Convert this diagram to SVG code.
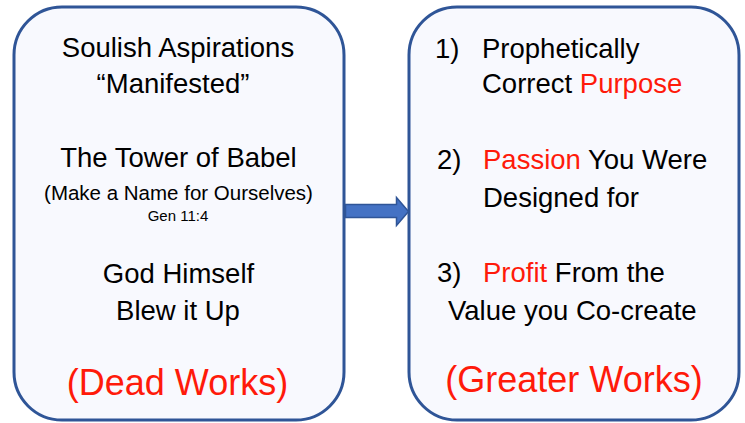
<svg xmlns="http://www.w3.org/2000/svg" width="745" height="423" viewBox="0 0 745 423">
  <style>
    .box { fill: #F8F9FE; stroke: #2F5597; stroke-width: 3; }
    .t { font-family: "Liberation Sans", Arial, sans-serif; font-size: 27.5px; fill: #000000; }
    .c { text-anchor: middle; }
    .red { fill: #FF1A0A; }
    .big { font-size: 36px; }
    .sub { font-size: 20.5px; }
    .ref { font-size: 15px; }
    .arrow { fill: #4472C4; stroke: #2F5597; stroke-width: 1.5; }
  </style>
  <rect x="0" y="0" width="745" height="423" fill="#FFFFFF"/>
  <g id="dead-works">
    <rect class="box" x="14" y="7" width="330" height="413" rx="48" ry="48"/>
    <text class="t c" x="178" y="57">Soulish Aspirations</text>
    <text class="t c" x="173" y="93">“Manifested”</text>
    <text class="t c" x="178.5" y="167">The Tower of Babel</text>
    <text class="t c sub" x="178.5" y="200">(Make a Name for Ourselves)</text>
    <text class="t c ref" x="178" y="221">Gen 11:4</text>
    <text class="t c" x="178.5" y="283">God Himself</text>
    <text class="t c" x="178" y="320">Blew it Up</text>
    <text class="t c big red" x="177.5" y="395">(Dead Works)</text>
  </g>
  <g id="greater-works">
    <rect class="box" x="409" y="7" width="330" height="413" rx="48" ry="48"/>
    <text class="t" x="435" y="58">1)</text>
    <text class="t" x="482" y="58">Prophetically</text>
    <text class="t" x="482" y="93">Correct <tspan class="red">Purpose</tspan></text>
    <text class="t" x="437" y="169">2)</text>
    <text class="t" x="483" y="169"><tspan class="red">Passion</tspan> You Were</text>
    <text class="t" x="483" y="207">Designed for</text>
    <text class="t" x="437" y="282">3)</text>
    <text class="t" x="483" y="282"><tspan class="red">Profit</tspan> From the</text>
    <text class="t" x="448" y="320">Value you Co-create</text>
    <text class="t c big red" x="574" y="392">(Greater Works)</text>
  </g>
  <g id="connectors">
    <path class="arrow" d="M345.5,204.5 L396.5,204.5 L396.5,197.5 L408.5,211.5 L396.5,225.5 L396.5,217.5 L345.5,217.5 Z"/>
  </g>
</svg>
